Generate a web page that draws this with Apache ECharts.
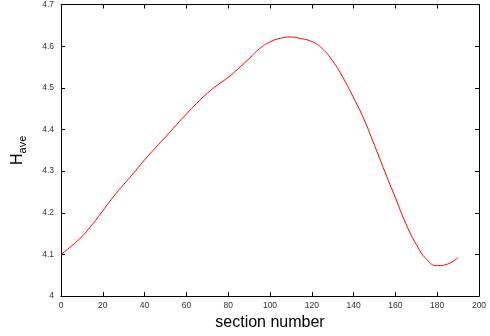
<!DOCTYPE html>
<html>
<head>
<meta charset="utf-8">
<script src="https://cdn.jsdelivr.net/npm/echarts@6/dist/echarts.min.js"></script>
<style>
  html, body { margin: 0; padding: 0; background: #fff; }
  #chart { width: 490px; height: 336px; }
</style>
</head>
<body>
<div id="chart"></div>
<script>
// section number (x) and average H (y)
const sections = [0, 5, 10, 15, 20, 25, 30, 35, 40, 45, 50, 55, 60, 65, 70, 75, 80, 85, 90, 95,
	100, 105, 110, 115, 120, 125, 130, 135, 140, 145, 150, 155, 160, 165, 170, 175, 180, 185, 190];
const hAve = [4.100, 4.120, 4.143, 4.172, 4.205, 4.238, 4.268, 4.297, 4.327, 4.355, 4.382, 4.410,
	4.437, 4.463, 4.487, 4.507, 4.525, 4.547, 4.570, 4.594, 4.610, 4.619, 4.622, 4.618, 4.611,
	4.594, 4.564, 4.524, 4.476, 4.424, 4.362, 4.298, 4.236, 4.174, 4.124, 4.088, 4.073, 4.077, 4.093];

const chart = echarts.init(document.getElementById('chart'));
const lineData = sections.map((x, i) => [x, hAve[i]]);

const tickLabel = {
	color: '#333',
	fontSize: 8.5,
	fontFamily: 'Liberation Sans, Arial, sans-serif',
};
const axisLine = { show: true, onZero: false, lineStyle: { color: '#000', width: 1 } };
const axisTick = { show: true, inside: true, length: 4, lineStyle: { color: '#000' } };

chart.setOption({
	animation: false,
	backgroundColor: '#fff',
	grid: { left: 61, right: 11, top: 4, bottom: 37 },
	xAxis: [
		{
			type: 'value',
			min: 0,
			max: 200,
			interval: 20,
			name: 'section number',
			nameLocation: 'middle',
			nameGap: 16,
			nameTextStyle: { fontSize: 16, color: '#000', fontFamily: 'Liberation Sans, Arial, sans-serif' },
			axisLine: axisLine,
			axisTick: axisTick,
			axisLabel: Object.assign({ margin: 5 }, tickLabel),
			splitLine: { show: false },
		},
		{
			type: 'value',
			position: 'top',
			min: 0,
			max: 200,
			interval: 20,
			axisLine: axisLine,
			axisTick: axisTick,
			axisLabel: { show: false },
			splitLine: { show: false },
		},
	],
	yAxis: [
		{
			type: 'value',
			min: 4,
			max: 4.7,
			interval: 0.1,
			name: '{a|H}{b|ave}',
			nameLocation: 'middle',
			nameRotate: 90,
			nameGap: 33,
			nameTextStyle: {
				fontFamily: 'Liberation Sans, Arial, sans-serif',
				color: '#000',
				rich: {
					a: { fontSize: 16, color: '#000', fontFamily: 'Liberation Sans, Arial, sans-serif' },
					b: { fontSize: 11, color: '#000', padding: [9, 0, 0, 0], fontFamily: 'Liberation Sans, Arial, sans-serif' },
				},
			},
			axisLine: axisLine,
			axisTick: axisTick,
			axisLabel: Object.assign({
				margin: 7,
				formatter: function (v) {
					return parseFloat(v.toFixed(1)).toString();
				},
			}, tickLabel),
			splitLine: { show: false },
		},
		{
			type: 'value',
			position: 'right',
			min: 4,
			max: 4.7,
			interval: 0.1,
			axisLine: axisLine,
			axisTick: axisTick,
			axisLabel: { show: false },
			splitLine: { show: false },
		},
	],
	series: [
		{
			type: 'line',
			data: lineData,
			smooth: 0.5,
			showSymbol: false,
			lineStyle: { color: '#ff0000', width: 1 },
		},
	],
});
</script>
</body>
</html>
